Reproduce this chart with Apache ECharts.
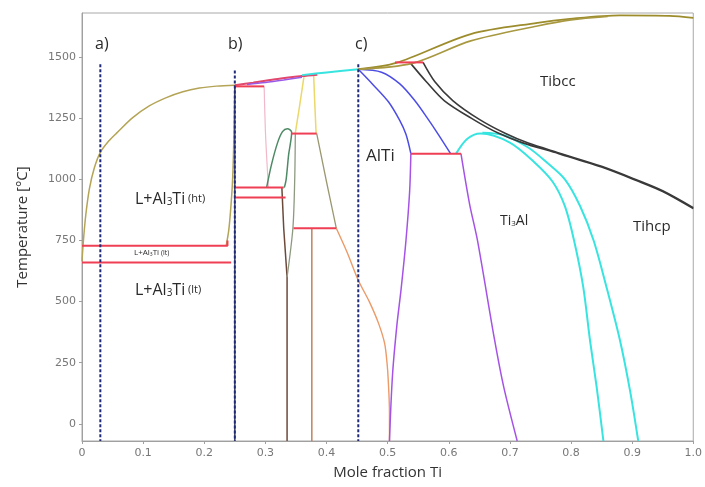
<!DOCTYPE html>
<html><head><meta charset="utf-8">
<script src="https://cdn.jsdelivr.net/npm/echarts@6/dist/echarts.min.js"></script>
<style>html,body{margin:0;padding:0;background:#fff}#c{width:705px;height:487px}</style>
</head><body><div id="c"></div>
<script>
// ---------- data (mole fraction Ti, temperature °C) ----------
const xTicks = [0,0.1,0.2,0.3,0.4,0.5,0.6,0.7,0.8,0.9,1.0];
const yTicks = [0,250,500,750,1000,1250,1500];

const liquidusAl = [[0,665],[0.002,740],[0.006,850],[0.012,960],[0.02,1045],[0.03,1110],[0.045,1160],[0.057,1190],[0.083,1252],[0.11,1300],[0.138,1334],[0.165,1358],[0.192,1373],[0.22,1381],[0.25,1385]];
const al3tiLeft = [[0.236,730],[0.240,790],[0.243,870],[0.246,980],[0.248,1120],[0.249,1260],[0.25,1385]];
const bSolid = [[0.25,1385],[0.25,-70]];

const red728 = [[0,728],[0.238,728],[0.238,750]];
const red660 = [[0,660],[0.244,660]];
const red966 = [[0.252,966],[0.33,966]];
const red926 = [[0.252,926],[0.333,926]];
const red800 = [[0.346,800],[0.416,800]];
const red1187 = [[0.343,1187],[0.384,1187]];
const red1380 = [[0.25,1380],[0.298,1380]];
const red1105 = [[0.538,1105],[0.62,1105]];
const red1478 = [[0.512,1478],[0.558,1478]];

const topRed = [[0.25,1385],[0.28,1395],[0.32,1410],[0.36,1422],[0.385,1428]];
const topPurple = [[0.27,1388],[0.30,1396],[0.33,1406],[0.36,1417]];
const topCyan = [[0.36,1426],[0.40,1437],[0.452,1450]];

const pinkLine = [[0.298,1380],[0.300,1200],[0.303,1050],[0.305,966]];
const greenDome = [[0.302,966],[0.31,1060],[0.32,1150],[0.328,1195],[0.336,1207],[0.343,1192],[0.338,1100],[0.334,1000],[0.331,966]];
const darkV = [[0.327,966],[0.330,800],[0.3355,600],[0.3355,-70]];
const greyV = [[0.349,1190],[0.348,1000],[0.345,800],[0.3355,600]];
const yellow1 = [[0.363,1418],[0.356,1300],[0.349,1190]];
const yellow2 = [[0.379,1425],[0.381,1300],[0.383,1187]];
const oliveRight = [[0.384,1187],[0.40,990],[0.416,800]];
const orangeLine = [[0.416,800],[0.434,700],[0.452,587],[0.47,500],[0.485,412],[0.495,330],[0.499,250],[0.501,179],[0.503,50],[0.503,-70]];
const brownVert = [[0.376,800],[0.376,-70]];

const blue1 = [[0.452,1450],[0.475,1390],[0.501,1318],[0.52,1240],[0.53,1184],[0.538,1105]];
const purple1 = [[0.538,1105],[0.536,950],[0.530,750],[0.522,550],[0.515,400],[0.508,200],[0.503,-70]];
const blue2 = [[0.452,1450],[0.49,1438],[0.52,1390],[0.545,1320],[0.565,1250],[0.582,1187],[0.603,1105]];
const purple2 = [[0.62,1105],[0.634,900],[0.647,750],[0.675,343],[0.69,150],[0.712,-70]];

const cyanInner = [[0.612,1105],[0.63,1165],[0.652,1187],[0.70,1150],[0.74,1070],[0.77,990],[0.79,890],[0.805,750],[0.82,560],[0.831,343],[0.842,150],[0.853,-70]];
const cyanOuter = [[0.655,1190],[0.69,1180],[0.73,1130],[0.76,1070],[0.79,1000],[0.815,890],[0.837,750],[0.858,560],[0.88,343],[0.897,130],[0.91,-70]];

const black1 = [[0.538,1473],[0.563,1400],[0.593,1321],[0.64,1245],[0.68,1190],[0.72,1150],[0.78,1105],[0.85,1050],[0.907,995],[0.95,950],[1.0,880]];
const black2 = [[0.558,1478],[0.577,1400],[0.607,1321],[0.65,1245],[0.693,1187],[0.73,1148],[0.78,1108],[0.85,1053],[0.907,998],[0.95,953],[1.0,884]];

const oliveTop = [[0.452,1450],[0.514,1476],[0.636,1594],[0.745,1640],[0.798,1656],[0.88,1670],[0.961,1668],[1.0,1660]];
const oliveLow = [[0.452,1450],[0.54,1474],[0.636,1566],[0.745,1627],[0.80,1652],[0.86,1666]];

const aLine = [[0.03,1470],[0.03,-70]];
const bLine = [[0.25,1445],[0.25,-70]];
const cLine = [[0.452,1470],[0.452,-70]];

// ---------- styles ----------
const RED='#ef3f55', OLIVE='#b4a456', BLUE='#4d4de6', PURPLE='#a552e6', CYAN='#38e4e0', BLACK='#3a3a3a', NAVY='#1f2a78';
const curves = [
  [liquidusAl, OLIVE, 1.5, true],
  [al3tiLeft, OLIVE, 1.5, true],
  [bSolid, '#3a3f66', 1.5, false],
  [pinkLine, '#f0b8c8', 1.2, true],
  [greenDome, '#4f8a66', 1.5, true],
  [darkV, '#6b4a3a', 1.5, false],
  [greyV, '#8d9a80', 1.3, true],
  [yellow1, '#ead86a', 1.5, false],
  [yellow2, '#ead86a', 1.5, false],
  [oliveRight, '#9a9870', 1.3, false],
  [orangeLine, '#ec9a68', 1.4, true],
  [brownVert, '#c0805e', 1.5, false],
  [topRed, '#e2486e', 2, true],
  [topPurple, '#9a5ae6', 1.5, true],
  [topCyan, CYAN, 2, true],
  [blue1, BLUE, 1.5, true],
  [purple1, PURPLE, 1.5, true],
  [blue2, BLUE, 1.5, true],
  [purple2, PURPLE, 1.5, true],
  [cyanInner, CYAN, 2, true],
  [cyanOuter, CYAN, 2, true],
  [black1, BLACK, 1.6, true],
  [black2, BLACK, 1.6, true],
  [oliveTop, '#9c8c2c', 1.8, true],
  [oliveLow, '#a89840', 1.6, true],
  [red728, RED, 2, false],
  [red660, RED, 2, false],
  [red966, RED, 2, false],
  [red926, RED, 2, false],
  [red800, RED, 2, false],
  [red1187, RED, 2, false],
  [red1380, RED, 2, false],
  [red1105, RED, 2, false],
  [red1478, RED, 2, false],
  [aLine, NAVY, 2, false, [3,2]],
  [bLine, NAVY, 2, false, [3,2]],
  [cLine, NAVY, 2, false, [3,2]]
];

const series = curves.map(([d,c,w,s,dash]) => ({
  type:'line', data:d, showSymbol:false, smooth:s?0.3:false, silent:true,
  lineStyle:{color:c, width:w, type: dash||'solid'}, z: dash?5:2
}));

const chart = echarts.init(document.getElementById('c'), null, {renderer:'canvas'});
const T = (txt, x, y, size, extra) => ({type:'text', left:x, top:y, z:100,
  style:Object.assign({text:txt, font:`${size}px "Open Sans", sans-serif`, fill:'#2a2a2a'}, extra||{})});
const richAl = (big, small) => ({
  a:{fontSize:big, fontFamily:'Open Sans', fill:'#2a2a2a'},
  s:{fontSize:Math.round(big*0.6), fontFamily:'Open Sans', fill:'#2a2a2a', verticalAlign:'bottom'},
  p:{fontSize:small, fontFamily:'Open Sans', fill:'#2a2a2a'}
});
chart.setOption({
  animation:false,
  grid:{left:82, right:8, top:13, bottom:46, show:true, borderColor:'#a8a8a8', borderWidth:1},
  xAxis:{type:'value', min:0, max:1, interval:0.1,
    name:'Mole fraction Ti', nameLocation:'middle', nameGap:24,
    nameTextStyle:{fontSize:15, color:'#333', fontFamily:'Open Sans'},
    axisLine:{onZero:false, lineStyle:{color:'#a0a0a0'}}, axisTick:{show:true, length:3, lineStyle:{color:'#a0a0a0'}},
    splitLine:{show:false},
    axisLabel:{fontSize:11, color:'#777', fontFamily:'DejaVu Sans', margin:7,
      customValues:xTicks, formatter:v=> v===1?'1.0':String(+v.toFixed(1))}},
  yAxis:{type:'value', min:-70, max:1680,
    name:'Temperature [°C]', nameLocation:'middle', nameGap:52,
    nameTextStyle:{fontSize:15, color:'#333', fontFamily:'Open Sans'},
    axisLine:{show:true, onZero:false, lineStyle:{color:'#a0a0a0'}},
    axisTick:{show:true, length:3, customValues:yTicks, lineStyle:{color:'#a0a0a0'}},
    splitLine:{show:false},
    axisLabel:{fontSize:11, color:'#777', fontFamily:'DejaVu Sans', margin:6, customValues:yTicks, formatter:v=>String(v)}},
  series,
  graphic:[
    T('a)', 95, 36, 16), T('b)', 228, 36, 16), T('c)', 355, 36, 16),
    {type:'text', left:135, top:191, z:100, style:{text:'{a|L+Al}{s|3}{a|Ti}{p| (ht)}', rich:richAl(16,11)}},
    {type:'text', left:134, top:249, z:100, style:{text:'{a|L+Al}{s|3}{a|Ti}{p| (lt)}', rich:richAl(8,7)}},
    {type:'text', left:135, top:282, z:100, style:{text:'{a|L+Al}{s|3}{a|Ti}{p| (lt)}', rich:richAl(16,11)}},
    T('AlTi', 366, 148, 17),
    {type:'text', left:500, top:214, z:100, style:{text:'{a|Ti}{s|3}{a|Al}', rich:richAl(14,9)}},
    T('Tibcc', 540, 74, 15),
    T('Tihcp', 633, 219, 15)
  ]
});
</script></body></html>
